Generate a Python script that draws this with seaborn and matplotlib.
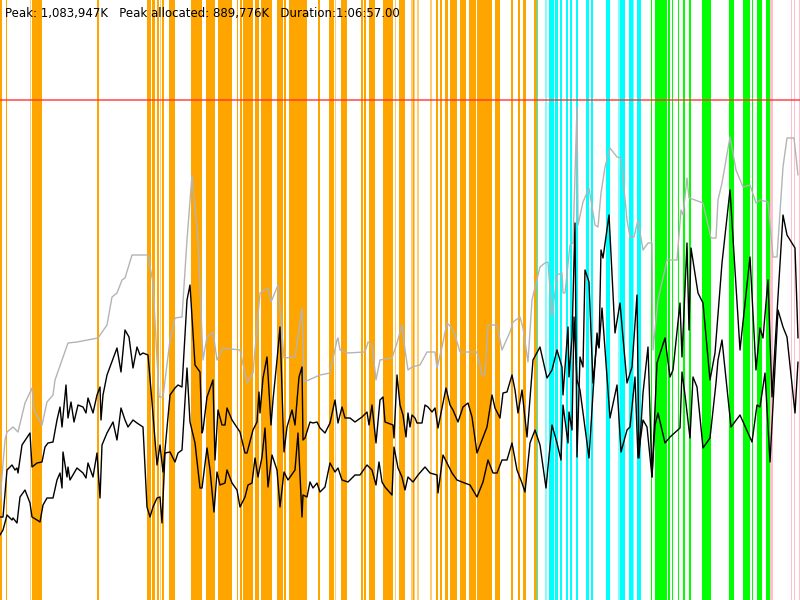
import numpy as np
import pandas as pd
import seaborn as sns
import matplotlib.pyplot as plt

# header text
peak = "1,083,947K"
peak_alloc = "889,776K"
duration = "1:06:57.00"
heap_limit_mb = 1000

# heap size (grey) - time in s, memory in MB
heap_t = [0, 25, 35, 65, 90, 125, 160, 170, 210, 235,
          265, 275, 310, 340, 385, 490, 535, 560, 585, 610,
          625, 660, 740, 765, 795, 815, 850, 875, 910, 935,
          960, 990, 1015, 1035, 1065, 1085, 1115, 1200, 1235, 1265,
          1300, 1340, 1355, 1390, 1420, 1475, 1510, 1520, 1600, 1650,
          1685, 1690, 1700, 1735, 1825, 1840, 1860, 1880, 1900, 1960,
          1985, 2010, 2025, 2040, 2060, 2100, 2135, 2175, 2185, 2210,
          2235, 2260, 2275, 2300, 2385, 2410, 2425, 2440, 2485, 2510,
          2550, 2565, 2600, 2615, 2640, 2660, 2700, 2725, 2740, 2760,
          2785, 2810, 2815, 2825, 2850, 2865, 2885, 2890, 2915, 2945,
          2975, 2990, 3005, 3025, 3050, 3085, 3105, 3135, 3150, 3170,
          3190, 3215, 3240, 3260, 3265, 3290, 3335, 3385, 3405, 3415,
          3435, 3445, 3475, 3515, 3555, 3580, 3590, 3610, 3650, 3680,
          3715, 3750, 3780, 3800, 3840, 3865, 3885, 3915, 3935, 3970,
          3990]
heap_mb = [200, 320, 336, 346, 336, 394, 424, 380, 350, 396,
           410, 440, 480, 514, 516, 524, 550, 606, 614, 640,
           644, 690, 690, 634, 406, 406, 520, 564, 566, 720,
           850, 720, 480, 526, 536, 480, 504, 500, 434, 454,
           614, 624, 596, 630, 484, 486, 584, 436, 450, 454,
           520, 524, 500, 494, 496, 516, 510, 440, 480, 484,
           514, 550, 500, 460, 466, 470, 496, 496, 464, 506,
           554, 544, 530, 496, 496, 450, 450, 550, 550, 500,
           536, 556, 566, 544, 476, 600, 666, 674, 676, 566,
           650, 654, 614, 614, 710, 714, 986, 750, 796, 824,
           750, 746, 814, 866, 904, 886, 884, 760, 726, 726,
           760, 700, 714, 714, 500, 600, 680, 680, 780, 770,
           844, 804, 800, 794, 724, 724, 800, 834, 926, 860,
           826, 830, 794, 800, 796, 686, 686, 866, 924, 924,
           850]

# used before GC (upper black)
used_t = [0, 15, 35, 60, 75, 85, 90, 110, 150, 160,
          185, 210, 225, 240, 265, 285, 300, 310, 330, 340,
          355, 370, 390, 415, 430, 440, 465, 485, 500, 505,
          515, 535, 585, 605, 625, 645, 665, 685, 700, 715,
          740, 760, 785, 800, 815, 850, 875, 890, 910, 935,
          950, 975, 1000, 1010, 1015, 1035, 1065, 1075, 1090, 1110,
          1125, 1135, 1160, 1200, 1225, 1235, 1265, 1285, 1295, 1300,
          1315, 1335, 1355, 1365, 1385, 1400, 1420, 1435, 1460, 1475,
          1495, 1510, 1515, 1525, 1550, 1565, 1585, 1600, 1625, 1650,
          1675, 1690, 1710, 1725, 1750, 1775, 1810, 1835, 1845, 1860,
          1880, 1900, 1915, 1925, 1965, 1970, 1985, 2000, 2015, 2030,
          2040, 2050, 2060, 2075, 2085, 2110, 2125, 2140, 2160, 2175,
          2190, 2215, 2230, 2250, 2265, 2290, 2315, 2340, 2360, 2385,
          2410, 2435, 2460, 2475, 2500, 2515, 2535, 2560, 2575, 2590,
          2610, 2635, 2665, 2700, 2735, 2760, 2785, 2810, 2815, 2835,
          2840, 2845, 2860, 2875, 2885, 2900, 2915, 2925, 2945, 2965,
          2985, 2995, 3005, 3015, 3045, 3075, 3100, 3135, 3160, 3185,
          3195, 3215, 3240, 3260, 3285, 3325, 3350, 3365, 3400, 3410,
          3425, 3435, 3445, 3455, 3490, 3515, 3550, 3575, 3600, 3610,
          3650, 3700, 3750, 3780, 3800, 3815, 3840, 3860, 3885, 3915,
          3935, 3975, 3990]
used_mb = [166, 166, 260, 270, 260, 264, 254, 310, 334, 266,
           274, 276, 306, 314, 316, 360, 386, 346, 430, 364,
           396, 356, 390, 386, 374, 404, 374, 410, 426, 360,
           410, 450, 504, 456, 540, 526, 464, 506, 490, 494,
           490, 396, 270, 310, 256, 410, 424, 430, 426, 600,
           630, 470, 456, 334, 340, 406, 440, 280, 380, 350,
           350, 384, 360, 336, 294, 294, 340, 356, 416, 374,
           444, 486, 350, 400, 480, 546, 296, 346, 380, 350,
           446, 466, 320, 324, 356, 354, 356, 344, 334, 354,
           400, 354, 386, 364, 364, 356, 366, 376, 350, 390,
           314, 400, 406, 356, 350, 324, 450, 390, 370, 326,
           374, 346, 370, 364, 354, 354, 390, 386, 376, 384,
           344, 394, 424, 390, 380, 356, 386, 394, 366, 294,
           320, 346, 410, 384, 364, 414, 416, 450, 420, 374,
           420, 326, 480, 506, 444, 460, 500, 466, 410, 520,
           546, 446, 526, 754, 286, 486, 466, 660, 636, 434,
           520, 504, 700, 684, 770, 534, 594, 434, 466, 610,
           284, 414, 506, 246, 474, 524, 446, 460, 594, 486,
           624, 714, 540, 704, 614, 594, 440, 494, 624, 674,
           820, 500, 686, 460, 544, 524, 640, 406, 574, 770,
           730, 704, 524]

# used after GC (lower black)
live_t = [0, 15, 35, 60, 65, 85, 100, 125, 150, 160,
          185, 200, 215, 235, 265, 285, 300, 310, 315, 335,
          340, 350, 385, 415, 430, 440, 465, 485, 500, 510,
          535, 565, 585, 605, 625, 640, 665, 685, 715, 735,
          750, 765, 785, 800, 810, 825, 850, 875, 890, 910,
          935, 950, 975, 1000, 1010, 1035, 1050, 1070, 1085, 1100,
          1125, 1135, 1160, 1185, 1200, 1225, 1240, 1260, 1275, 1290,
          1310, 1325, 1340, 1360, 1385, 1400, 1420, 1440, 1475, 1490,
          1510, 1515, 1535, 1550, 1565, 1585, 1600, 1625, 1650, 1675,
          1690, 1710, 1740, 1775, 1800, 1835, 1860, 1880, 1895, 1910,
          1925, 1960, 1970, 1990, 2010, 2025, 2040, 2065, 2090, 2125,
          2150, 2185, 2190, 2215, 2240, 2260, 2285, 2310, 2350, 2385,
          2415, 2440, 2465, 2485, 2510, 2535, 2560, 2585, 2610, 2625,
          2650, 2675, 2700, 2730, 2760, 2785, 2805, 2815, 2840, 2845,
          2860, 2870, 2885, 2900, 2945, 2965, 2985, 2995, 3010, 3050,
          3085, 3105, 3135, 3150, 3175, 3190, 3215, 3235, 3260, 3275,
          3290, 3325, 3350, 3400, 3410, 3425, 3450, 3465, 3485, 3515,
          3550, 3580, 3590, 3610, 3655, 3700, 3760, 3785, 3800, 3825,
          3850, 3890, 3915, 3935, 3975, 3990]
live_mb = [130, 140, 170, 160, 164, 154, 206, 220, 194, 166,
           160, 156, 190, 204, 204, 240, 254, 224, 296, 246,
           266, 240, 264, 254, 244, 274, 246, 294, 204, 310,
           334, 356, 320, 384, 360, 346, 360, 354, 346, 186,
           166, 186, 204, 206, 154, 294, 296, 276, 294, 300,
           464, 356, 314, 224, 224, 304, 260, 176, 256, 230,
           234, 260, 234, 220, 186, 206, 230, 234, 284, 246,
           286, 344, 226, 290, 260, 186, 256, 240, 260, 334,
           166, 210, 206, 236, 224, 234, 216, 226, 274, 256,
           264, 240, 236, 250, 250, 270, 260, 230, 276, 236,
           226, 210, 306, 264, 246, 220, 246, 236, 250, 266,
           254, 250, 214, 290, 270, 254, 240, 236, 230, 206,
           236, 280, 254, 254, 280, 280, 314, 260, 234, 216,
           314, 340, 310, 224, 350, 314, 280, 390, 314, 376,
           340, 566, 440, 420, 284, 414, 534, 506, 584, 364,
           430, 296, 340, 346, 446, 284, 360, 346, 246, 350,
           374, 314, 326, 344, 456, 410, 324, 446, 426, 304,
           324, 434, 480, 520, 346, 370, 316, 390, 386, 454,
           276, 580, 546, 526, 374, 476]

# GC events (start s, end s)
young_gc = [(0, 10), (30, 37), (160, 210), (487, 495), (735, 755), (760, 775),
            (785, 795), (810, 820), (845, 875), (955, 1010), (1030, 1075),
            (1090, 1160), (1185, 1192), (1200, 1210), (1215, 1265), (1275, 1295),
            (1305, 1360), (1385, 1415), (1420, 1430), (1445, 1535), (1590, 1600),
            (1645, 1670), (1705, 1735), (1805, 1815), (1820, 1830), (1845, 1875),
            (1915, 1965), (1995, 2025), (2065, 2070), (2180, 2190), (2200, 2210),
            (2225, 2240), (2250, 2285), (2300, 2330), (2345, 2380), (2385, 2460),
            (2475, 2500), (2555, 2565), (2590, 2600), (2615, 2630), (2670, 2685)]
young_gc_short = [(150, 155), (800, 805), (1675, 1680), (1975, 1980),
                  (2055, 2075), (2085, 2095), (2150, 2160)]
mixed_gc = [(2685, 2690), (2745, 2770), (2775, 2790), (2800, 2810), (2830, 2840),
            (2850, 2860), (2880, 2890), (2930, 2945), (2955, 2965), (3030, 3050),
            (3100, 3125), (3145, 3165), (3185, 3205)]
mixed_gc_short = [(2725, 2735), (3090, 3100), (3165, 3170)]
full_gc = [(3255, 3260), (3275, 3335), (3340, 3350), (3360, 3365), (3390, 3395),
           (3415, 3425), (3445, 3455), (3510, 3555), (3645, 3670), (3715, 3750),
           (3760, 3765), (3785, 3810), (3830, 3850)]
remark = [(3850, 3865), (3955, 3960), (3970, 3975), (3995, 4000)]

heap = pd.DataFrame({"t": heap_t, "mb": heap_mb})
used = pd.DataFrame({"t": used_t, "mb": used_mb})
live = pd.DataFrame({"t": live_t, "mb": live_mb})

sns.set_style("white")
fig = plt.figure(figsize=(8, 6), dpi=100)
ax = fig.add_axes([0, 0, 1, 1])

for spans, col, a in [(young_gc, "#ffa500", 1), (young_gc_short, "#ffa500", 0.55),
                      (mixed_gc, "#00ffff", 1), (mixed_gc_short, "#00ffff", 0.5),
                      (full_gc, "#00ff00", 1), (remark, "#ffc0cb", 1)]:
    for s, e in spans:
        ax.axvspan(s, e, color=col, alpha=a, lw=0)

ax.axhline(heap_limit_mb, color="#ff3030", alpha=0.75, lw=1.3)

sns.lineplot(data=heap, x="t", y="mb", color="#b4b4b4", lw=1, estimator=None, sort=False, ax=ax)
sns.lineplot(data=used, x="t", y="mb", color="black", lw=1, estimator=None, sort=False, ax=ax)
sns.lineplot(data=live, x="t", y="mb", color="black", lw=1, estimator=None, sort=False, ax=ax)

ax.set_xlim(0, 4000)
ax.set_ylim(0, 1200)
ax.axis("off")

fig.text(5 / 800, 1 - 13 / 600,
         f"Peak: {peak}   Peak allocated: {peak_alloc}   Duration:{duration}",
         fontsize=8.5, va="center", ha="left", color="black")

fig.savefig("out.png", dpi=100)
